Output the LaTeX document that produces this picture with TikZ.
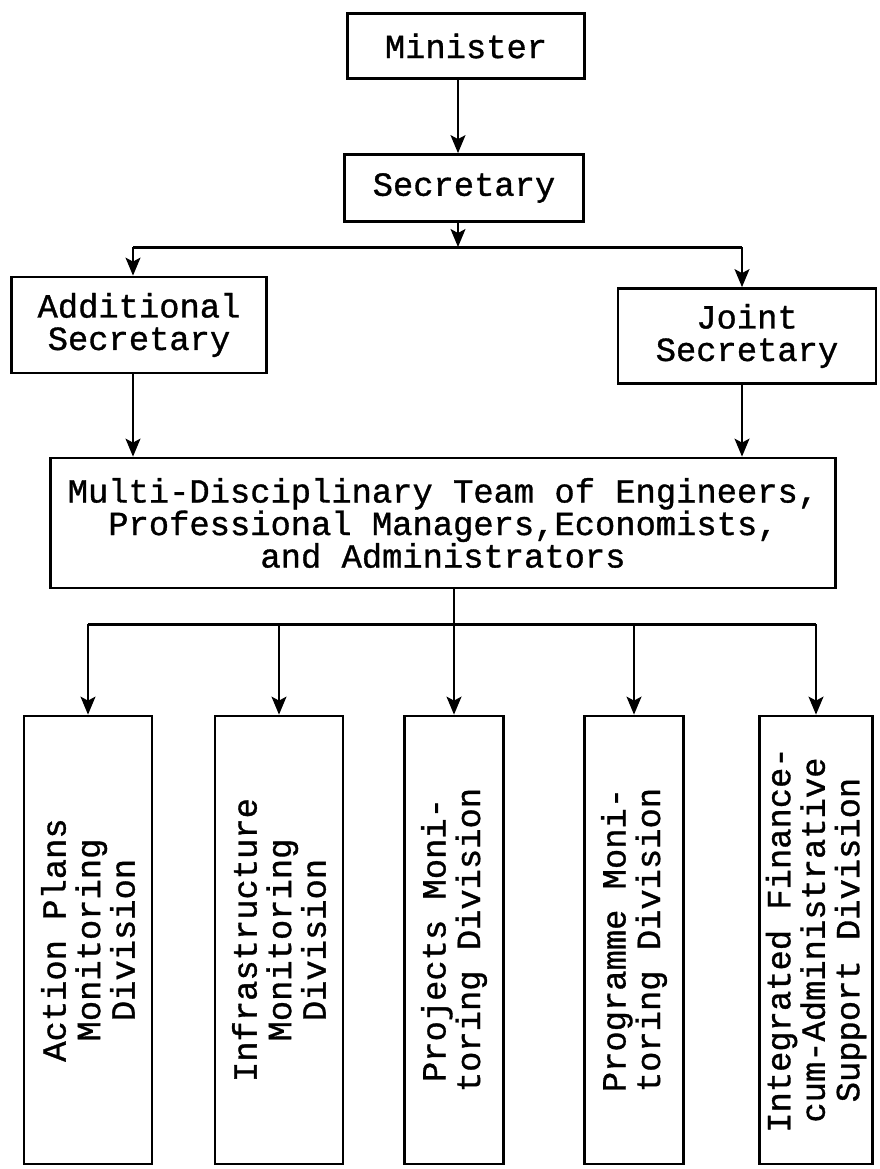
\documentclass[tikz,border=0pt]{standalone}
\usepackage{fontspec}
\setmainfont{Liberation Mono}[FakeBold=1]
\usetikzlibrary{arrows.meta}

\tikzset{
    box/.style={draw, line width=2.8pt, align=center, inner sep=0pt,
        font=\fontsize{33.8}{32.5}\selectfont},
    divbox/.style={box, rotate=90, minimum width=448, minimum height=#1,
        font=\fontsize{33.8}{34.5}\selectfont},
    conn/.style={line width=1.5pt, -{Stealth[length=18pt,width=15pt,inset=4pt]}},
    bar/.style={line width=3pt}
}

\begin{document}
\begin{tikzpicture}[x=1pt,y=-1pt]
\useasboundingbox (0,0) rectangle (880,1169);

% Minister and Secretary
\node[box, minimum width=237, minimum height=65] (minister) at (466,46) {Minister};
\node[box, minimum width=239, minimum height=67] (secretary) at (464,188) {Secretary};

\coordinate (sl) at (133,247);
\coordinate (sm) at (458,247);
\coordinate (sr) at (742,247);

\draw[conn] (sm |- minister.south) -- (sm |- secretary.north);
\draw[conn] (sm |- secretary.south) -- (sm);
\draw[bar] (sl) -- (sr);

% Additional and Joint Secretary
\node[box, minimum width=255, minimum height=96] (addl) at (139,325) {Additional\\Secretary};
\node[box, minimum width=258, minimum height=95] (joint) at (747,336) {Joint\\Secretary};

\draw[conn] (sl) -- (sl |- addl.north);
\draw[conn] (sr) -- (sr |- joint.north);

% Team
\node[box, minimum width=785, minimum height=130] (team) at (443,523)
    {Multi-Disciplinary Team of Engineers,\\Professional Managers,Economists,\\and Administrators};

\draw[conn] (sl |- addl.south) -- (sl |- team.north);
\draw[conn] (sr |- joint.south) -- (sr |- team.north);

% Divisions
\node[divbox=128] (d1) at (88,940) {Action Plans\\Monitoring\\Division};
\node[divbox=128] (d2) at (279,940) {Infrastructure\\Monitoring\\Division};
\node[divbox=99] (d3) at (454,940) {Projects Moni-\\toring Division};
\node[divbox=99] (d4) at (634,940) {Programme Moni-\\toring Division};
\node[divbox=113] (d5) at (816,940) {Integrated Finance-\\cum-Administrative\\Support Division};

\coordinate (lo) at (88,624);
\coordinate (ro) at (816,624);

\draw[bar] (lo) -- (ro);
\draw[line width=1.5pt] (d3.east |- team.south) -- (d3.east |- lo);

\foreach \n in {1,...,5}
{
    \draw[conn] (d\n.east |- lo) -- (d\n.east);
}

\end{tikzpicture}
\end{document}
